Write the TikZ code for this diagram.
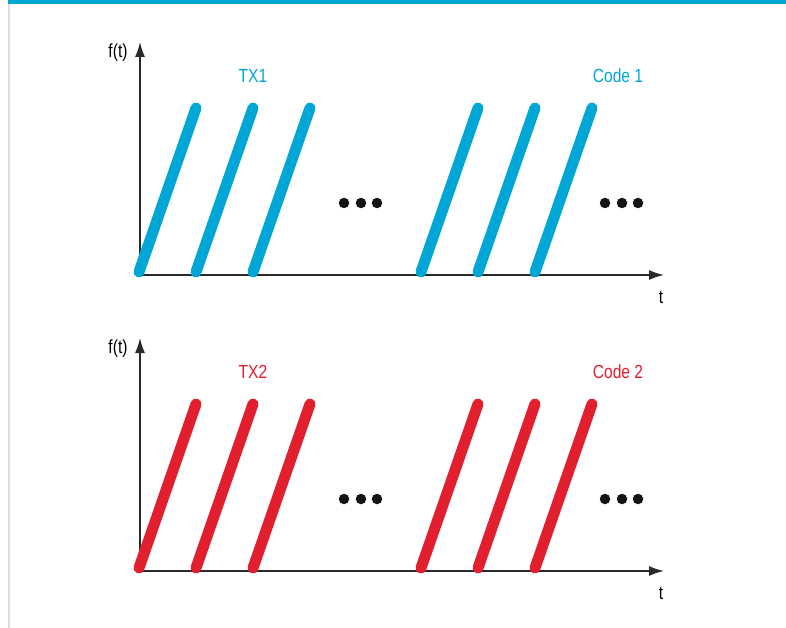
\documentclass[tikz,border=0pt]{standalone}
\usepackage{fontspec}
\setmainfont{Liberation Sans}[FakeStretch=0.82]
\usetikzlibrary{arrows.meta}
\definecolor{cblue}{HTML}{00A6D6}
\definecolor{cred}{HTML}{E21F2E}
\definecolor{cframe}{HTML}{D9E0E4}
\definecolor{caxis}{HTML}{2A2A2A}
\tikzset{
  axis/.style={draw=caxis, line width=1.5pt, -{Latex[length=15pt,width=10pt]}},
  chirp/.style={line width=11pt, line cap=round},
  lbl/.style={font=\fontsize{19}{21}\selectfont, inner sep=0pt},
  dot/.style={circle, fill=black!92, minimum size=10.5pt, inner sep=0pt},
}
\begin{document}
\begin{tikzpicture}[x=1pt,y=-1pt]
\useasboundingbox (0,0) rectangle (786,628);
\fill[white] (0,0) rectangle (786,628);
\draw[cframe, line width=2pt] (9,0) -- (9,628);
\fill[cblue] (8,0) rectangle (786,4.5);
\foreach \dy/\col/\tx/\cd/\n in {0/cblue/TX1/Code 1/a, 296/cred/TX2/Code 2/b}{
  \begin{scope}[yshift=-\dy pt]
    \coordinate (o\n) at (140,275);
    \coordinate (ytop\n) at (140,42);
    \coordinate (xend\n) at (664,275);
    \draw[axis] (o\n) -- (ytop\n);
    \draw[axis] (o\n) -- (xend\n);
    \node[lbl] (fl\n) at (118,53) {f(t)};
    \node[lbl] (tl\n) at (661,297) {t};
    \node[lbl, text=\col] (tx\n) at (253,76) {\tx};
    \node[lbl, text=\col] (cd\n) at (618,76) {\cd};
    \foreach \x in {139,196,253,421,478,535}{
      \draw[chirp, \col] (\x,272) -- ({\x+57},108);
    }
    \foreach \x [count=\i] in {344,361,377}{
      \node[dot] (d1\n\i) at (\x,203) {};
    }
    \foreach \x [count=\i] in {605,622,638}{
      \node[dot] (d2\n\i) at (\x,203) {};
    }
  \end{scope}
}
\end{tikzpicture}
\end{document}
